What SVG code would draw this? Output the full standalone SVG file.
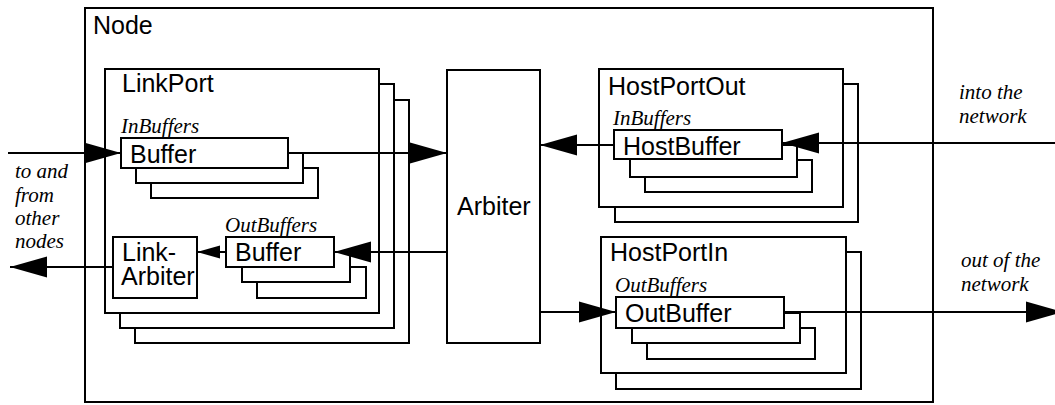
<svg xmlns="http://www.w3.org/2000/svg" width="1055" height="405" viewBox="0 0 1055 405">
  <style>
    .box { fill: #ffffff; stroke: #000000; stroke-width: 2; }
    .wire { fill: none; stroke: #000000; stroke-width: 2; }
    .name { font-family: "Liberation Sans", Arial, sans-serif; font-size: 25px; fill: #000000; }
    .note { font-family: "Liberation Serif", "Times New Roman", serif; font-style: italic; font-size: 21px; fill: #000000; }
  </style>
  <defs>
    <marker id="head" markerUnits="userSpaceOnUse" markerWidth="38" markerHeight="22" refX="37" refY="10.5" orient="auto" overflow="visible">
      <path d="M0,0 L37,10.5 L0,21 Z" fill="#000000"/>
    </marker>
    <marker id="head-small" markerUnits="userSpaceOnUse" markerWidth="24" markerHeight="14" refX="23" refY="6.5" orient="auto" overflow="visible">
      <path d="M0,0 L23,6.5 L0,13 Z" fill="#000000"/>
    </marker>
  </defs>

  <rect x="0" y="0" width="1055" height="405" fill="#ffffff"/>

  <!-- enclosing node -->
  <g id="node">
    <rect class="box" x="85" y="8" width="848" height="394"/>
    <text class="name" x="93" y="34">Node</text>
  </g>

  <!-- link ports: three stacked instances -->
  <g id="linkport">
    <rect class="box" x="135" y="100" width="274" height="243"/>
    <rect class="box" x="120" y="84" width="274" height="244"/>
    <rect class="box" x="105" y="69" width="274" height="244"/>
    <text class="name" x="122" y="92">LinkPort</text>
  </g>

  <g id="link-inbuffers">
    <text class="note" x="121" y="133">InBuffers</text>
    <rect class="box" x="151" y="168" width="167" height="30"/>
    <rect class="box" x="136" y="153" width="167" height="30"/>
    <rect class="box" x="121" y="138" width="167" height="30"/>
    <text class="name" x="130" y="162.5">Buffer</text>
  </g>

  <g id="link-outbuffers">
    <text class="note" x="225" y="232">OutBuffers</text>
    <rect class="box" x="257" y="267" width="109" height="31"/>
    <rect class="box" x="242" y="252" width="108" height="30"/>
    <rect class="box" x="226" y="237" width="108" height="30"/>
    <text class="name" x="235" y="261">Buffer</text>
  </g>

  <g id="link-arbiter">
    <rect class="box" x="113" y="237" width="84" height="61"/>
    <text class="name" x="122" y="261">Link-</text>
    <text class="name" x="121" y="285">Arbiter</text>
  </g>

  <g id="arbiter">
    <rect class="box" x="447" y="70" width="93" height="273"/>
    <text class="name" x="457" y="215">Arbiter</text>
  </g>

  <!-- host output port: two stacked instances -->
  <g id="hostportout">
    <rect class="box" x="615" y="84" width="243" height="138"/>
    <rect class="box" x="599" y="69" width="244" height="138"/>
    <text class="name" x="608" y="95">HostPortOut</text>
    <text class="note" x="613" y="125">InBuffers</text>
    <rect class="box" x="645" y="160" width="167" height="32"/>
    <rect class="box" x="630" y="145" width="167" height="32"/>
    <rect class="box" x="614" y="130" width="168" height="29"/>
    <text class="name" x="623" y="155">HostBuffer</text>
  </g>

  <!-- host input port: two stacked instances -->
  <g id="hostportin">
    <rect class="box" x="616" y="252" width="245" height="137"/>
    <rect class="box" x="601" y="237" width="245" height="136"/>
    <text class="name" x="610" y="261">HostPortIn</text>
    <text class="note" x="615" y="292">OutBuffers</text>
    <rect class="box" x="647" y="328" width="168" height="31"/>
    <rect class="box" x="632" y="313" width="168" height="30"/>
    <rect class="box" x="616" y="297" width="168" height="31"/>
    <text class="name" x="625" y="322">OutBuffer</text>
  </g>

  <!-- side annotations -->
  <g id="labels">
    <text class="note" x="15" y="178">to and</text>
    <text class="note" x="15" y="202">from</text>
    <text class="note" x="15" y="225">other</text>
    <text class="note" x="15" y="248">nodes</text>
    <text class="note" x="959" y="99">into the</text>
    <text class="note" x="959" y="123">network</text>
    <text class="note" x="961" y="267">out of the</text>
    <text class="note" x="961" y="291">network</text>
  </g>

  <g id="connectors">
    <line class="wire" x1="8" y1="153" x2="121" y2="153" marker-end="url(#head)"/>
    <line class="wire" x1="288" y1="153" x2="447" y2="153" marker-end="url(#head)"/>
    <line class="wire" x1="447" y1="252" x2="334" y2="252" marker-end="url(#head)"/>
    <line class="wire" x1="226" y1="252" x2="197" y2="252" marker-end="url(#head-small)"/>
    <line class="wire" x1="113" y1="267" x2="10" y2="267" marker-end="url(#head)"/>
    <line class="wire" x1="1055" y1="143" x2="782" y2="143" marker-end="url(#head)"/>
    <line class="wire" x1="614" y1="145" x2="540" y2="145" marker-end="url(#head)"/>
    <line class="wire" x1="540" y1="312" x2="616" y2="312" marker-end="url(#head)"/>
    <line class="wire" x1="784" y1="312" x2="1063" y2="312" marker-end="url(#head)"/>
  </g>
</svg>
